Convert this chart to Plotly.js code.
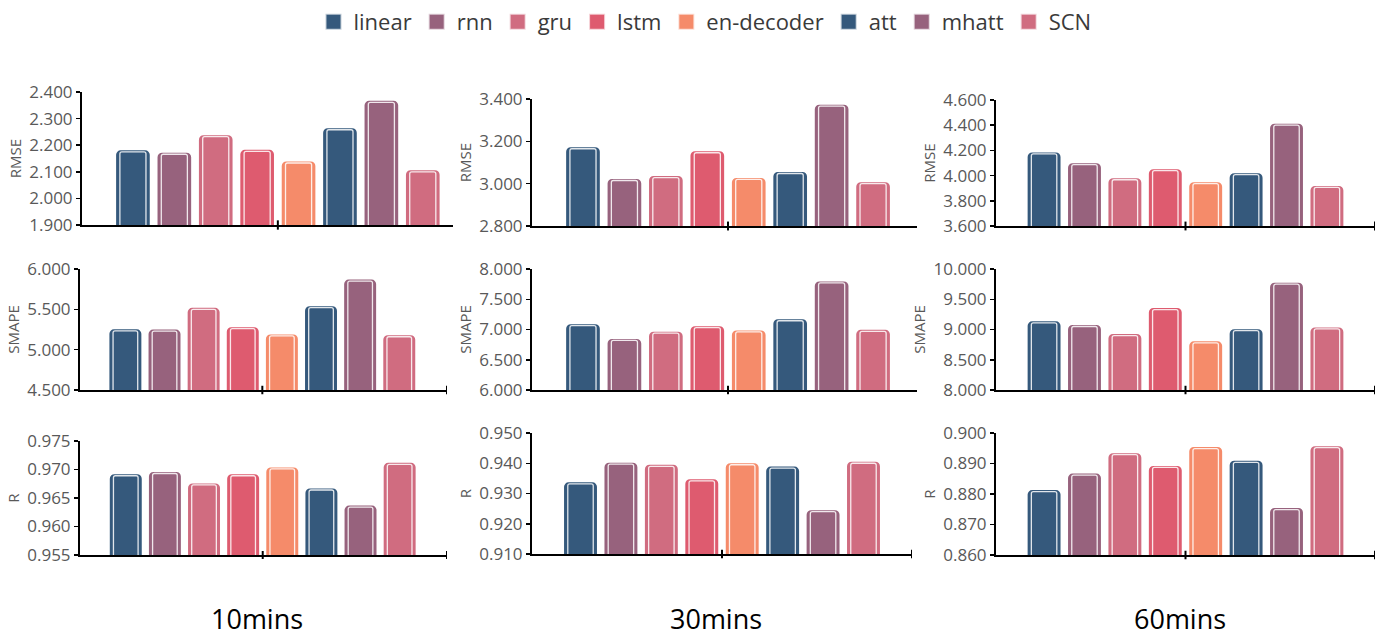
<!DOCTYPE html>
<html>
<head>
<meta charset="utf-8">
<script src="https://cdn.plot.ly/plotly-3.0.1.min.js"></script>
<style>html,body{margin:0;padding:0;background:#fff;}#chart{width:1391px;height:639px;}</style>
</head>
<body>
<div id="chart"></div>
<script>
// ---------- data ----------
const models = ['linear', 'rnn', 'gru', 'lstm', 'en-decoder', 'att', 'mhatt', 'SCN'];
const colors = ['#35597C', '#97627D', '#D06C80', '#DE5B6F', '#F58B6A', '#35597C', '#97627D', '#D06C80'];
const horizons = ['10mins', '30mins', '60mins'];
const metrics = ['RMSE', 'SMAPE', 'R'];

const rmse10  = [2.175, 2.166, 2.232, 2.177, 2.133, 2.258, 2.361, 2.100];
const smape10 = [5.233, 5.230, 5.500, 5.260, 5.170, 5.520, 5.850, 5.160];
const r10     = [0.9689, 0.9693, 0.9673, 0.9689, 0.9701, 0.9664, 0.9634, 0.9709];

const rmse30  = [3.165, 3.015, 3.029, 3.146, 3.020, 3.048, 3.366, 3.000];
const smape30 = [7.063, 6.820, 6.940, 7.030, 6.960, 7.145, 7.770, 6.970];
const r30     = [0.9332, 0.9397, 0.9390, 0.9342, 0.9395, 0.9384, 0.9240, 0.9400];

const rmse60  = [4.172, 4.087, 3.967, 4.039, 3.936, 4.007, 4.400, 3.906];
const smape60 = [9.110, 9.050, 8.900, 9.330, 8.780, 8.980, 9.750, 9.010];
const r60     = [0.8808, 0.8862, 0.8929, 0.8887, 0.8949, 0.8904, 0.8749, 0.8952];

// ---------- layout config (positions in px) ----------
const W = 1391, H = 639;
const panels = [
  {vals: rmse10,  metric: 0, xd: [82, 453],  yd: [92, 225],  xr: [-1.23, 7.73], yr: [1.9, 2.4],     dt: 0.1,   endTick: false},
  {vals: smape10, metric: 1, xd: [80, 447],  yd: [269, 390], xr: [-1.16, 8.22], yr: [4.5, 6.0],     dt: 0.5,   endTick: true},
  {vals: r10,     metric: 2, xd: [80, 447],  yd: [441, 555], xr: [-1.17, 8.21], yr: [0.955, 0.975], dt: 0.005, endTick: true},
  {vals: rmse30,  metric: 0, xd: [532, 917], yd: [99, 226],  xr: [-1.23, 8.06], yr: [2.8, 3.4],     dt: 0.2,   endTick: false},
  {vals: smape30, metric: 1, xd: [532, 917], yd: [269, 390], xr: [-1.23, 8.06], yr: [6.0, 8.0],     dt: 0.5,   endTick: false},
  {vals: r30,     metric: 2, xd: [532, 912], yd: [433, 554], xr: [-1.20, 8.20], yr: [0.91, 0.95],   dt: 0.01,  endTick: true},
  {vals: rmse60,  metric: 0, xd: [996, 1375], yd: [100, 226], xr: [-1.19, 8.19], yr: [3.6, 4.6],    dt: 0.2,   endTick: true},
  {vals: smape60, metric: 1, xd: [996, 1375], yd: [269, 390], xr: [-1.19, 8.19], yr: [8.0, 10.0],   dt: 0.5,   endTick: true},
  {vals: r60,     metric: 2, xd: [996, 1375], yd: [433, 555], xr: [-1.19, 8.19], yr: [0.86, 0.90],  dt: 0.01,  endTick: true}
];
const labelPos = [257, 716, 1180];

const tickFont = {family: 'Open Sans, Noto Sans, sans-serif', size: 17, color: '#595959'};
const titleFont = {family: 'Open Sans, Noto Sans, sans-serif', size: 15, color: '#595959'};

const data = [];
const layout = {
  width: W, height: H,
  margin: {l: 0, r: 0, t: 0, b: 0},
  paper_bgcolor: '#ffffff', plot_bgcolor: 'rgba(0,0,0,0)',
  barmode: 'overlay',
  showlegend: true,
  legend: {
    orientation: 'h', x: 705 / W, xanchor: 'center', y: 1 - 22 / H, yanchor: 'middle',
    font: {family: 'Open Sans, Noto Sans, sans-serif', size: 22, color: '#3a3a3a'},
    itemsizing: 'trace', bgcolor: 'rgba(0,0,0,0)', traceorder: 'normal'
  },
  shapes: [],
  annotations: []
};

panels.forEach((p, i) => {
  const n = i === 0 ? '' : String(i + 1);
  const xa = 'x' + n, ya = 'y' + n;
  // outer bar
  data.push({
    type: 'bar', x: models, y: p.vals, xaxis: xa, yaxis: ya,
    width: 0.74, showlegend: false, hoverinfo: 'x+y',
    marker: {color: colors, line: {color: colors, width: 3}, cornerradius: 3}
  });
  // inner highlight line
  data.push({
    type: 'bar', x: models, y: p.vals, xaxis: xa, yaxis: ya,
    width: 0.63, showlegend: false, hoverinfo: 'skip',
    marker: {color: 'rgba(0,0,0,0)', line: {color: 'rgba(255,255,255,0.85)', width: 1.3}, cornerradius: 2}
  });
  layout['xaxis' + n] = {
    domain: [p.xd[0] / W, p.xd[1] / W], anchor: ya,
    type: 'category', categoryorder: 'array', categoryarray: models,
    range: p.xr, showticklabels: false, ticks: '', showgrid: false, zeroline: false,
    showline: true, linecolor: '#000000', linewidth: 2, fixedrange: true
  };
  layout['yaxis' + n] = {
    domain: [1 - p.yd[1] / H, 1 - p.yd[0] / H], anchor: xa,
    range: p.yr, tick0: p.yr[0], dtick: p.dt, tickformat: '.3f',
    ticks: 'outside', ticklen: 4, tickwidth: 1.5, tickcolor: '#000000',
    showline: true, linecolor: '#000000', linewidth: 2,
    showgrid: false, zeroline: false, tickfont: tickFont,
    title: {text: metrics[p.metric], font: titleFont, standoff: 4}, fixedrange: true
  };
  const tickXs = [3.5];
  if (p.endTick) tickXs.push(p.xr[1]);
  tickXs.forEach(tx => {
    layout.shapes.push({
      type: 'line', xref: xa, yref: ya + ' domain',
      x0: tx, x1: tx, y0: -0.035, y1: 0.035,
      line: {color: '#000000', width: 2}
    });
  });
});

// legend keys
models.forEach((m, i) => {
  data.push({
    type: 'scatter', mode: 'markers', x: [null], y: [null], xaxis: 'x', yaxis: 'y',
    name: m, showlegend: true, hoverinfo: 'skip',
    marker: {symbol: 'square', size: 16, color: colors[i], line: {color: 'rgba(255,255,255,0.7)', width: 2}}
  });
});

horizons.forEach((h, i) => {
  layout.annotations.push({
    text: h, xref: 'paper', yref: 'paper', x: labelPos[i] / W, y: 1 - 618 / H,
    xanchor: 'center', yanchor: 'middle', showarrow: false,
    font: {family: 'Open Sans, Noto Sans, sans-serif', size: 27, color: '#000000'}
  });
});

Plotly.newPlot('chart', data, layout, {displayModeBar: false, staticPlot: true});
</script>
</body>
</html>
